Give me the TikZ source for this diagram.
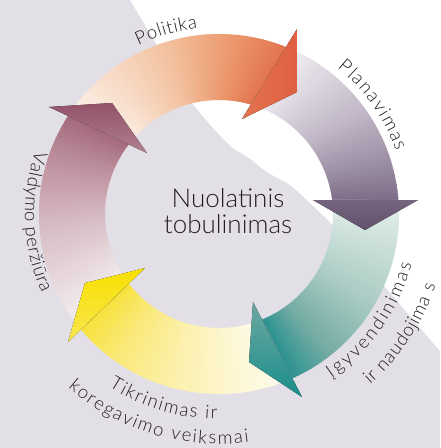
\documentclass[tikz,border=0pt]{standalone}
\usepackage{fontspec}
\IfFontExistsTF{Lato Light}{\setmainfont{Lato Light}}{\setmainfont{Lato}}
\usetikzlibrary{decorations.text}
\definecolor{bglav}{RGB}{227,223,231}
\definecolor{txt}{HTML}{231F20}
\definecolor{oA}{HTML}{FCF3EC}\definecolor{oB}{HTML}{F3C29F}\definecolor{oC}{HTML}{EB956A}\definecolor{oD}{HTML}{E3744F}
\definecolor{pA}{HTML}{F4F2F5}\definecolor{pB}{HTML}{C3B9C9}\definecolor{pC}{HTML}{9C8FA4}\definecolor{pD}{HTML}{7E6D87}
\definecolor{tA}{HTML}{E6EFEC}\definecolor{tB}{HTML}{A9CBC3}\definecolor{tC}{HTML}{74ACA4}\definecolor{tD}{HTML}{2A928F}
\definecolor{yA}{HTML}{FEFCF2}\definecolor{yB}{HTML}{FCF1B0}\definecolor{yC}{HTML}{FAE978}\definecolor{yD}{HTML}{F8E13C}
\definecolor{mA}{HTML}{F6F2F3}\definecolor{mB}{HTML}{D6BAC2}\definecolor{mC}{HTML}{BC8E9B}\definecolor{mD}{HTML}{A46A7B}
\newcommand{\lab}{\fontsize{18.5}{21}\selectfont}
% #1 outer start, #2 inner start, #3 outer end, #4 inner end, #5-#8 colour stops (0, .5, .8, 1)
\newcommand{\ringbody}[8]{%
  \foreach \i in {0,...,59}{%
    \pgfmathsetmacro{\ta}{\i/60}%
    \pgfmathsetmacro{\tb}{min(1,(\i+1.4)/60)}%
    \pgfmathsetmacro{\oa}{#1+(#3-#1)*\ta}%
    \pgfmathsetmacro{\ob}{#1+(#3-#1)*\tb}%
    \pgfmathsetmacro{\ia}{#2+(#4-#2)*\ta}%
    \pgfmathsetmacro{\ib}{#2+(#4-#2)*\tb}%
    \pgfmathsetmacro{\tm}{(\i+0.5)/60}%
    \ifdim\tm pt<0.5pt
      \pgfmathtruncatemacro{\pc}{\tm*200}\colorlet{cc}{#6!\pc!#5}%
    \else\ifdim\tm pt<0.8pt
      \pgfmathtruncatemacro{\pc}{(\tm-0.5)/0.3*100}\colorlet{cc}{#7!\pc!#6}%
    \else
      \pgfmathtruncatemacro{\pc}{(\tm-0.8)/0.2*100}\colorlet{cc}{#8!\pc!#7}%
    \fi\fi
    \fill[cc] (\oa:180) arc[start angle=\oa, end angle=\ob, radius=180]
      -- (\ib:114) arc[start angle=\ib, end angle=\ia, radius=114] -- cycle;
  }}
\tikzset{
  lbl/.style={decorate, decoration={text along path, text color=txt,
     text align={fit to path}, text={#1}}},
  centre/.style={font=\fontsize{26}{27}\selectfont, text=txt, anchor=base, inner sep=0pt},
}
\begin{document}
\begin{tikzpicture}[x=1pt,y=1pt]
\useasboundingbox (-219,-234) rectangle (221,214);
\fill[bglav] (-219,-234) rectangle (221,214);
% white band
\fill[white] (-89,214) --
  plot[smooth] coordinates {(-27,111) (-6,86) (14,66) (30,56) (48,42) (71,29) (91,11) (111,-8)}
  -- (161,-67) -- (221,-137) -- (221,214) -- cycle;
% arrow bodies
\ringbody{147.0}{142.4}{68.1}{73.8}{oA}{oB}{oC}{oD}
\ringbody{68.1}{73.8}{4.46}{7.06}{pA}{pB}{pC}{pD}
\ringbody{4.46}{7.06}{-65.9}{-67.8}{tA}{tB}{tC}{tD}
\ringbody{-65.9}{-67.8}{-140.1}{-142.4}{yA}{yB}{yC}{yD}
\ringbody{219.9}{217.6}{147.0}{142.4}{mA}{mB}{mC}{mD}
% arrow heads
\fill[left color=oD, right color={rgb,255:red,222;green,96;blue,66}] (78,185) -- (78,122) -- (23,95) -- cycle;
\fill[top color={rgb,255:red,118;green,101;blue,127}, bottom color={rgb,255:red,98;green,81;blue,107}] (94,14) -- (146,-16) -- (199,14) -- cycle;
\fill[top color={rgb,255:red,109;green,168;blue,160}, bottom color={rgb,255:red,26;green,142;blue,139}] (34,-88) -- (30,-148) -- (83,-183) -- cycle;
\fill[top color={rgb,255:red,248;green,224;blue,0}, bottom color={rgb,255:red,249;green,230;blue,80}] (-74,-54) -- (-134,-69) -- (-151,-128) -- cycle;
\fill[top color={rgb,255:red,147;green,83;blue,106}, bottom color={rgb,255:red,176;green,128;blue,142}] (-72,61) -- (-107,111) -- (-170,107) -- cycle;
% labels
\path[lbl={|\lab|Politika}] (115.5:187) arc[start angle=115.5, end angle=96.6, radius=187];
\path[lbl={|\lab|Planavimas}] (51:188) arc[start angle=51, end angle=19.5, radius=188];
\path[lbl={|\lab|Valdymo peržiūra}] (161:194) arc[start angle=161, end angle=204, radius=194];
\path[lbl={|\lab|Tikrinimas ir}] (237.5:205) arc[start angle=237.5, end angle=269.5, radius=205];
\path[lbl={|\lab|koregavimo veiksmai}] (229:230) arc[start angle=229, end angle=277.5, radius=230];
\path[lbl={|\lab|Įgyvendinimas}] (-55.5:199) arc[start angle=-55.5, end angle=-14.5, radius=199];
\path[lbl={|\lab|ir naudojima s}] (-48.4:228) arc[start angle=-48.4, end angle=-18.2, radius=228];
% centre
\node[centre] (t1) at (9,7) {Nuolatinis};
\node[centre] (t2) at (9,-19) {tobulinimas};
\end{tikzpicture}
\end{document}
